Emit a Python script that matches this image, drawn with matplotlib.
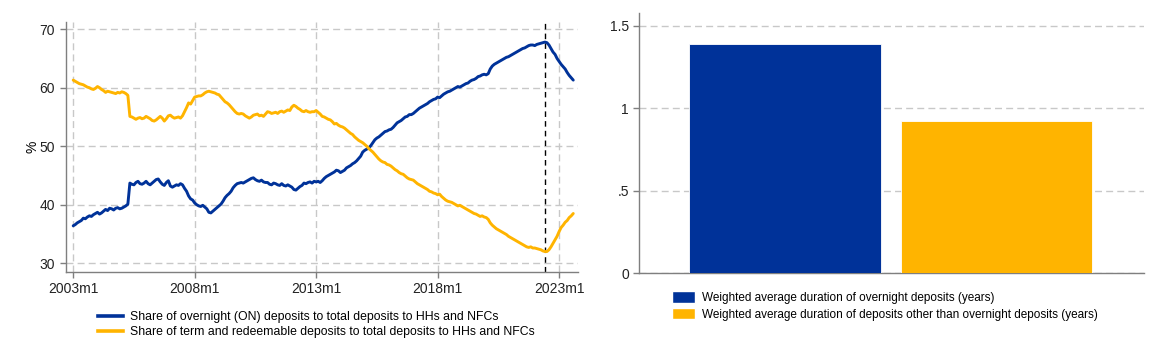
import numpy as np
import matplotlib.pyplot as plt
from matplotlib.patches import Patch
from matplotlib.lines import Line2D

plt.rcParams['font.family'] = ['Liberation Sans', 'DejaVu Sans']

BLUE = '#003299'
ORANGE = '#FFB400'

# monthly shares, 2003m1 - 2023m8 (%)
on_share = [
    36.4, 36.6, 36.9, 37.1, 37.3, 37.7, 37.6, 37.9, 38.1, 38.0, 38.3, 38.5,  # 2003
    38.7, 38.4, 38.6, 38.9, 39.2, 39.0, 39.4, 39.3, 39.1, 39.4, 39.5, 39.3,  # 2004
    39.4, 39.6, 39.8, 40.1, 43.7, 43.5, 43.4, 43.8, 44.0, 43.6, 43.5, 43.7,  # 2005
    44.0, 43.6, 43.4, 43.7, 44.0, 44.3, 44.4, 43.9, 43.5, 43.3, 43.8, 44.1,  # 2006
    43.2, 43.0, 43.2, 43.4, 43.3, 43.6, 43.4, 42.8, 42.3, 41.5, 41.0, 40.8,  # 2007
    40.3, 40.0, 39.8, 39.7, 39.9, 39.6, 39.3, 38.7, 38.6, 38.9, 39.2, 39.5,  # 2008
    39.8, 40.1, 40.6, 41.2, 41.6, 41.9, 42.3, 42.9, 43.3, 43.6, 43.7, 43.8,  # 2009
    43.7, 43.9, 44.1, 44.3, 44.5, 44.6, 44.3, 44.1, 44.0, 44.2, 43.9, 43.8,  # 2010
    43.8, 43.5, 43.4, 43.7, 43.6, 43.4, 43.3, 43.6, 43.3, 43.2, 43.4, 43.2,  # 2011
    43.0, 42.6, 42.5, 42.8, 43.1, 43.3, 43.7, 43.6, 43.8, 43.9, 43.7, 44.0,  # 2012
    43.9, 44.0, 43.8, 44.1, 44.5, 44.8, 45.0, 45.2, 45.4, 45.6, 45.9, 45.8,  # 2013
    45.5, 45.7, 45.9, 46.3, 46.5, 46.7, 47.0, 47.2, 47.5, 47.9, 48.3, 49.0,  # 2014
    49.3, 49.5, 49.7, 50.1, 50.6, 51.1, 51.4, 51.6, 51.9, 52.2, 52.5, 52.6,  # 2015
    52.8, 52.9, 53.2, 53.6, 54.0, 54.2, 54.4, 54.7, 55.0, 55.1, 55.4, 55.4,  # 2016
    55.6, 55.9, 56.2, 56.5, 56.7, 56.9, 57.1, 57.3, 57.6, 57.8, 58.0, 58.1,  # 2017
    58.4, 58.3, 58.6, 58.9, 59.1, 59.3, 59.4, 59.6, 59.8, 60.0, 60.2, 60.1,  # 2018
    60.3, 60.5, 60.7, 60.8, 61.1, 61.3, 61.4, 61.6, 61.9, 62.0, 62.2, 62.3,  # 2019
    62.2, 62.4, 63.2, 63.7, 64.0, 64.2, 64.4, 64.6, 64.8, 65.0, 65.2, 65.3,  # 2020
    65.5, 65.7, 65.9, 66.1, 66.3, 66.5, 66.7, 66.8, 67.0, 67.2, 67.3, 67.3,  # 2021
    67.2, 67.4, 67.5, 67.6, 67.7, 67.8, 67.7, 67.3, 66.7, 66.1, 65.7, 65.0,  # 2022
    64.5, 64.0, 63.6, 63.2, 62.6, 62.1, 61.7, 61.3,                          # 2023
]

term_share = [
    61.3, 61.1, 60.9, 60.7, 60.6, 60.5, 60.3, 60.1, 60.0, 59.8, 59.7, 59.9,  # 2003
    60.2, 60.0, 59.7, 59.5, 59.2, 59.4, 59.3, 59.2, 59.1, 59.0, 59.2, 59.1,  # 2004
    59.3, 59.2, 59.0, 58.7, 55.1, 55.0, 54.8, 54.6, 54.8, 54.9, 54.7, 54.8,  # 2005
    55.1, 54.9, 54.7, 54.4, 54.3, 54.5, 54.8, 55.1, 54.8, 54.3, 54.7, 55.2,  # 2006
    55.3, 55.0, 54.8, 54.9, 55.0, 54.8, 55.2, 55.9, 56.6, 57.4, 57.2, 57.8,  # 2007
    58.4, 58.5, 58.6, 58.6, 58.8, 59.1, 59.3, 59.4, 59.3, 59.2, 59.1, 58.9,  # 2008
    58.8, 58.4, 58.0, 57.6, 57.4, 57.1, 56.7, 56.3, 55.9, 55.6, 55.5, 55.6,  # 2009
    55.5, 55.2, 55.0, 54.8, 55.0, 55.3, 55.4, 55.5, 55.2, 55.3, 55.1, 55.5,  # 2010
    55.9, 55.8, 55.6, 55.7, 55.8, 55.6, 55.9, 56.0, 55.8, 56.0, 56.2, 56.1,  # 2011
    56.7, 57.0, 56.8, 56.5, 56.3, 56.0, 55.9, 56.1, 55.9, 55.8, 55.9, 55.9,  # 2012
    56.1, 55.8, 55.5, 55.1, 55.0, 54.8, 54.6, 54.5, 54.2, 53.8, 53.9, 53.6,  # 2013
    53.4, 53.3, 53.1, 52.8, 52.5, 52.2, 52.0, 51.6, 51.3, 51.0, 50.8, 50.6,  # 2014
    50.3, 50.0, 49.6, 49.3, 49.0, 48.6, 48.2, 47.8, 47.5, 47.3, 47.2, 46.9,  # 2015
    46.8, 46.6, 46.3, 46.0, 45.8, 45.5, 45.3, 45.2, 44.9, 44.6, 44.4, 44.3,  # 2016
    44.2, 43.9, 43.6, 43.4, 43.2, 43.0, 42.8, 42.6, 42.3, 42.2, 42.0, 41.9,  # 2017
    41.7, 41.8, 41.4, 41.1, 40.8, 40.6, 40.5, 40.4, 40.2, 40.0, 39.8, 39.9,  # 2018
    39.7, 39.5, 39.3, 39.1, 38.9, 38.7, 38.5, 38.4, 38.2, 38.0, 38.1, 37.9,  # 2019
    37.8, 37.5, 36.9, 36.5, 36.2, 35.9, 35.7, 35.5, 35.3, 35.1, 34.9, 34.6,  # 2020
    34.4, 34.2, 34.0, 33.8, 33.6, 33.4, 33.2, 33.0, 32.8, 32.7, 32.8, 32.6,  # 2021
    32.6, 32.5, 32.4, 32.3, 32.1, 32.0, 32.0, 32.3, 32.8, 33.4, 34.0, 34.6,  # 2022
    35.4, 36.1, 36.5, 37.0, 37.3, 37.8, 38.1, 38.5,                          # 2023
]

start_year = 2003
marker_year, marker_month = 2022, 6
year_ticks = [2003, 2008, 2013, 2018, 2023]
tick_labels = ['2003m1', '2008m1', '2013m1', '2018m1', '2023m1']

line_labels = ['Share of overnight (ON) deposits to total deposits to HHs and NFCs',
               'Share of term and redeemable deposits to total deposits to HHs and NFCs']

bar_labels = ['Weighted average duration of overnight deposits (years)',
              'Weighted average duration of deposits other than overnight deposits (years)']
durations = [1.39, 0.92]

months = start_year + np.arange(len(on_share)) / 12.0

fig = plt.figure(figsize=(11.54, 3.43), dpi=100)

# left panel: shares over time
ax1 = fig.add_axes([0.0569, 0.207, 0.444, 0.730])
ax1.plot(months, on_share, color=BLUE, lw=2.1, solid_capstyle='round', zorder=3)
ax1.plot(months, term_share, color=ORANGE, lw=2.1, solid_capstyle='round', zorder=3)
ax1.axvline(marker_year + (marker_month - 1) / 12.0, color='black', lw=1.0,
            ls=(0, (4, 3)), zorder=2)
ax1.set_xlim(start_year - 0.31, start_year + 20.78)
ax1.set_ylim(28.5, 71.3)
ax1.set_xticks(year_ticks)
ax1.set_xticklabels(tick_labels)
ax1.set_yticks([30, 40, 50, 60, 70])
ax1.set_ylabel('%', fontsize=10, labelpad=0)
ax1.grid(True, color='#c8c8c8', ls=(0, (5, 3)), lw=1.0)
ax1.set_axisbelow(True)

# right panel: durations
ax2 = fig.add_axes([0.554, 0.203, 0.437, 0.759])
ax2.bar([0, 1], durations, width=0.906, color=[BLUE, ORANGE],
        edgecolor='white', linewidth=0.6, zorder=3)
ax2.set_xlim(-0.689, 1.697)
ax2.set_ylim(0, 1.577)
ax2.set_xticks([])
ax2.set_yticks([0, 0.5, 1, 1.5])
ax2.set_yticklabels(['0', '.5', '1', '1.5'])
ax2.grid(True, axis='y', color='#c8c8c8', ls=(0, (5, 3)), lw=1.0)
ax2.set_axisbelow(True)

for ax in (ax1, ax2):
    for side in ('top', 'right'):
        ax.spines[side].set_visible(False)
    for side in ('left', 'bottom'):
        ax.spines[side].set_color('#7f7f7f')
        ax.spines[side].set_linewidth(1.0)
    ax.tick_params(colors='#7f7f7f', labelcolor='#222222', labelsize=10,
                   length=4, width=1.0)
ax2.tick_params(axis='x', length=0)

handles = [Line2D([], [], color=BLUE, lw=2.6), Line2D([], [], color=ORANGE, lw=2.6)]
fig.legend(handles, line_labels, loc='upper left', bbox_to_anchor=(0.085, 0.092),
           frameon=False, fontsize=8.8, handlelength=2.0, handletextpad=0.6,
           labelspacing=0.2, borderpad=0, borderaxespad=0)

patches = [Patch(facecolor=BLUE, edgecolor='white'), Patch(facecolor=ORANGE, edgecolor='white')]
fig.legend(patches, bar_labels, loc='upper left', bbox_to_anchor=(0.582, 0.151),
           frameon=False, fontsize=8.5, handlelength=2.0, handleheight=1.1,
           handletextpad=0.55, labelspacing=0.35, borderpad=0, borderaxespad=0)

fig.savefig('out.png', dpi=100)
